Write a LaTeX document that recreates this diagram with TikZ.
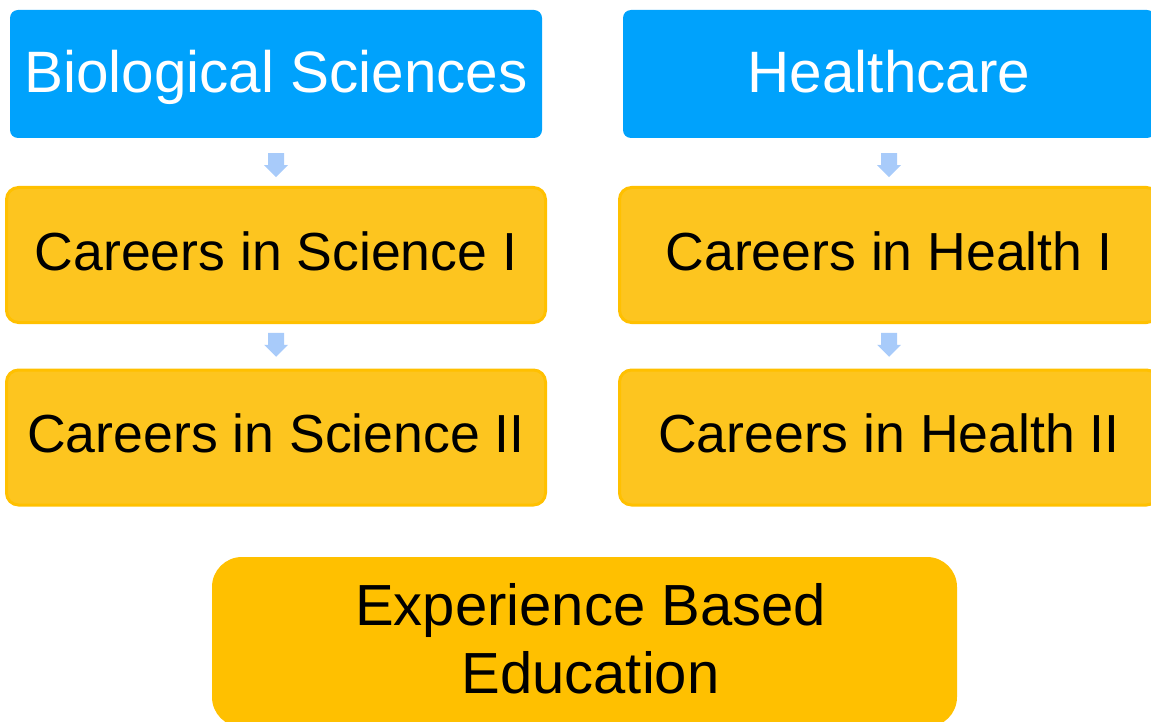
\documentclass[tikz,border=0pt]{standalone}
\usepackage{fontspec}
\setmainfont{Liberation Sans}
\usetikzlibrary{calc}
\definecolor{bluebox}{HTML}{00A2FC}
\definecolor{yelfill}{HTML}{FDC51F}
\definecolor{yeldraw}{HTML}{FFC000}
\definecolor{ebefill}{HTML}{FFC000}
\definecolor{arrowc}{HTML}{A8CBFA}
\tikzset{
  headbox/.style={fill=bluebox, rounded corners=8pt, minimum width=532pt, minimum height=128pt, inner sep=0pt, text=white, text height=44pt, text depth=6pt, font=\fontsize{58.4}{69}\selectfont},
  coursebox/.style={fill=yelfill, draw=yeldraw, line width=3pt, rounded corners=12pt, minimum width=539pt, minimum height=135pt, inner sep=0pt, text=black, text height=38pt, text depth=8pt, font=\fontsize{53.6}{64}\selectfont},
  ebebox/.style={fill=ebefill, rounded corners=30pt, minimum width=745pt, minimum height=170pt, inner sep=0pt, text=black, align=center, text height=110pt, text depth=8pt, font=\fontsize{58}{68}\selectfont},
}
% #1 upper node, #2 lower node, #3 offset of arrow centre from midpoint (downwards)
\newcommand{\blockarrow}[3]{%
  \fill[arrowc] let \p1=($(#1.south)!0.5!(#2.north)+(0,#3)$) in
    (\x1-8,\y1+12) -- (\x1+8,\y1+12) -- (\x1+8,\y1) -- (\x1+12,\y1) -- (\x1,\y1-12) -- (\x1-12,\y1) -- (\x1-8,\y1) -- cycle;}
\begin{document}
\begin{tikzpicture}[x=1pt,y=-1pt]
\useasboundingbox (0,0) rectangle (1151,722);
\clip (0,0) rectangle (1151,722);
\node[headbox] (bio) at (276,74) {Biological Sciences};
\node[headbox] (hc) at (889,74) {Healthcare};
\node[coursebox] (s1) at (276,255) {Careers in Science I};
\node[coursebox] (s2) at (276,437.5) {Careers in Science II};
\node[coursebox] (h1) at (889,255) {Careers in Health I};
\node[coursebox] (h2) at (889,437.5) {Careers in Health II};
\node[ebebox] (ebe) at (584.5,642) {\hspace*{12pt}Experience Based\\\hspace*{12pt}Education};
\blockarrow{bio}{s1}{3}
\blockarrow{s1}{s2}{-1.5}
\blockarrow{hc}{h1}{3}
\blockarrow{h1}{h2}{-1.5}
\end{tikzpicture}
\end{document}
